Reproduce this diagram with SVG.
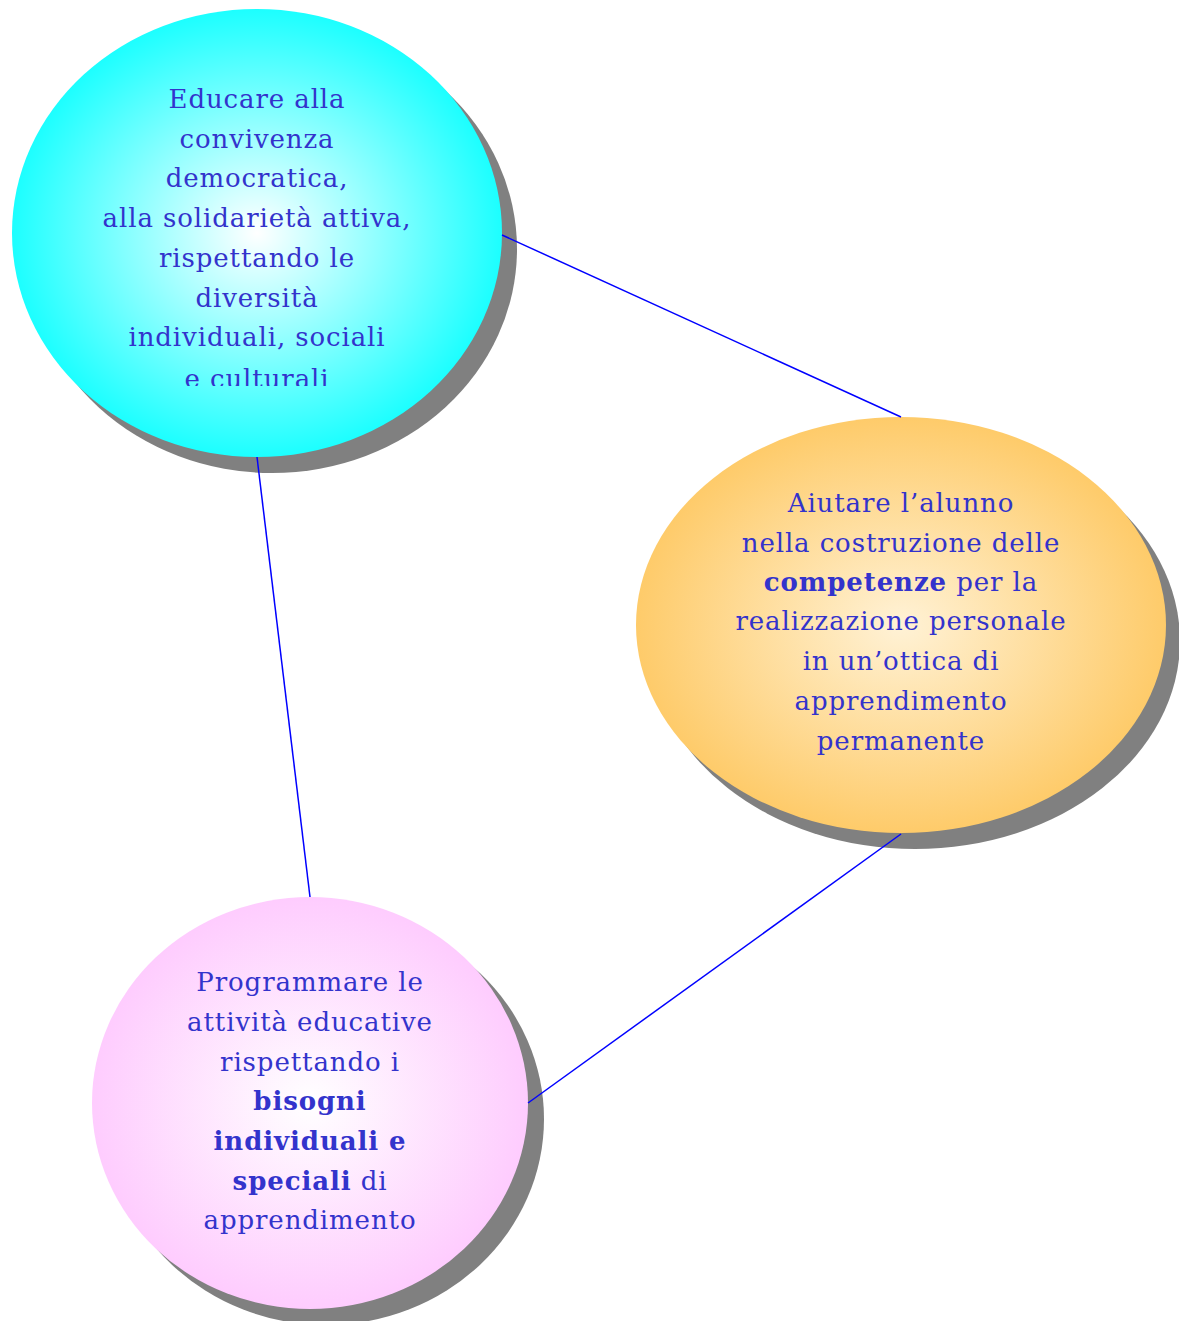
<svg xmlns="http://www.w3.org/2000/svg" width="1179" height="1321" viewBox="0 0 1179 1321">
<style>
.t{font-family:"DejaVu Serif","Liberation Serif",serif;font-size:26px;letter-spacing:0.9px;fill:#3333CC;text-anchor:middle}
.b{font-weight:bold}
.sh{fill:#808080}
.conn{stroke:#0000FF;stroke-width:1.5;fill:none}
</style>
<defs>
<radialGradient id="gc" cx="50%" cy="50%" r="50%">
<stop offset="0" stop-color="#FFFFFF"/>
<stop offset="1" stop-color="#1CFFFF"/>
</radialGradient>
<radialGradient id="go" cx="50%" cy="50%" r="50%">
<stop offset="0" stop-color="#FFF2D6"/>
<stop offset="1" stop-color="#FECB6A"/>
</radialGradient>
<radialGradient id="gp" cx="50%" cy="50%" r="50%">
<stop offset="0" stop-color="#FFFFFF"/>
<stop offset="1" stop-color="#FECCFE"/>
</radialGradient>
<clipPath id="clipc"><rect x="60" y="60" width="400" height="326"/></clipPath>
</defs>
<g id="node-educare">
<ellipse class="sh" cx="272" cy="249" rx="245" ry="224"/>
<ellipse cx="257" cy="233" rx="245" ry="224" fill="url(#gc)"/>
<g clip-path="url(#clipc)">
<text class="t" x="257" y="108">Educare alla</text>
<text class="t" x="257" y="147.7">convivenza</text>
<text class="t" x="257" y="187.4">democratica,</text>
<text class="t" x="257" y="227.1">alla solidarietà attiva,</text>
<text class="t" x="257" y="266.8">rispettando le</text>
<text class="t" x="257" y="306.5">diversità</text>
<text class="t" x="257" y="346.2">individuali, sociali</text>
<text class="t" x="257" y="388">e culturali</text>
</g>
</g>
<g id="node-aiutare">
<ellipse class="sh" cx="915" cy="641" rx="265" ry="208"/>
<ellipse cx="901" cy="625" rx="265" ry="208" fill="url(#go)"/>
<text class="t" x="901" y="512">Aiutare l’alunno</text>
<text class="t" x="901" y="552">nella costruzione delle</text>
<text class="t" x="901" y="591"><tspan class="b">competenze</tspan> per la</text>
<text class="t" x="901" y="630">realizzazione personale</text>
<text class="t" x="901" y="670">in un’ottica di</text>
<text class="t" x="901" y="710">apprendimento</text>
<text class="t" x="901" y="750">permanente</text>
</g>
<g id="node-programmare">
<ellipse class="sh" cx="326" cy="1119" rx="218" ry="206"/>
<ellipse cx="310" cy="1103" rx="218" ry="206" fill="url(#gp)"/>
<text class="t" x="310" y="991">Programmare le</text>
<text class="t" x="310" y="1031">attività educative</text>
<text class="t" x="310" y="1071">rispettando i</text>
<text class="t b" x="310" y="1110">bisogni</text>
<text class="t b" x="310" y="1150">individuali e</text>
<text class="t" x="310" y="1190"><tspan class="b">speciali</tspan> di</text>
<text class="t" x="310" y="1229">apprendimento</text>
</g>
<g id="connectors">
<line class="conn" x1="502" y1="235" x2="901" y2="417"/>
<line class="conn" x1="257" y1="457" x2="310" y2="897"/>
<line class="conn" x1="528" y1="1103" x2="901" y2="834"/>
</g>
</svg>
